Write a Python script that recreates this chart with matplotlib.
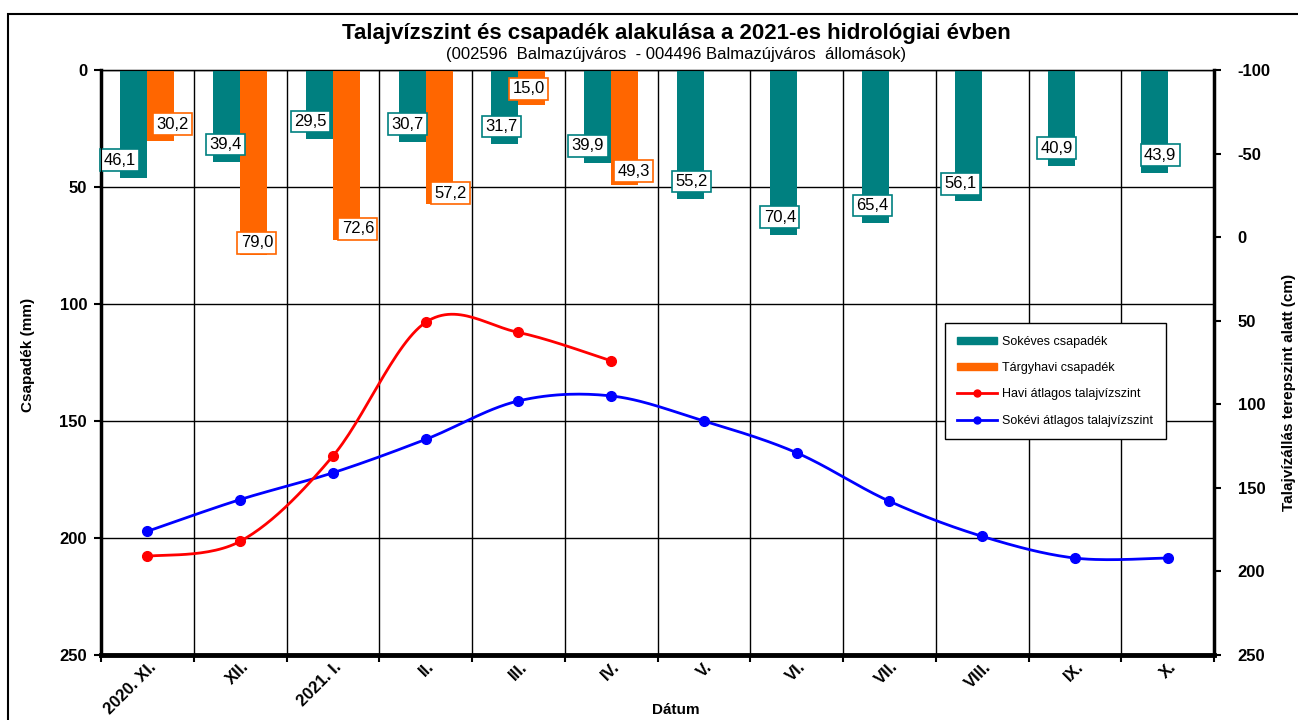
import matplotlib.pyplot as plt
import numpy as np
from matplotlib.patches import Rectangle, Patch
from matplotlib.lines import Line2D
import matplotlib.transforms as mtransforms

# %% data
months = ['2020. XI.', 'XII.', '2021. I.', 'II.', 'III.', 'IV.',
          'V.', 'VI.', 'VII.', 'VIII.', 'IX.', 'X.']
sokeves = [46.1, 39.4, 29.5, 30.7, 31.7, 39.9, 55.2, 70.4, 65.4, 56.1, 40.9, 43.9]
targyhavi = [30.2, 79.0, 72.6, 57.2, 15.0, 49.3]
havi_talajviz = [191, 182, 131, 51, 57, 74]
sokevi_talajviz = [176, 157, 141, 121, 98, 95, 110, 129, 158, 179, 192, 192]

# label placement (manually moved labels in the original)
teal_lbl_dx = [-0.30, -0.16, -0.24, -0.20, -0.18, -0.25, -0.13, -0.18, -0.18, -0.23, -0.20, -0.08]
orange_lbl_dx = [0.27, 0.18, 0.27, 0.27, 0.11, 0.24]
orange_lbl_dy = [-7.1, -5.1, -4.7, -4.6, -6.9, -6.1]

teal = '#008080'
orange = '#FF6600'
narrow = ['Liberation Sans Narrow', 'Liberation Sans', 'DejaVu Sans']
plt.rcParams['font.family'] = ['Liberation Sans', 'DejaVu Sans']
plt.rcParams['axes.unicode_minus'] = False


def smooth(x, y, n=30):
    # catmull-rom, like excel's smoothed line
    p = np.column_stack([x, y]).astype(float)
    p = np.vstack([p[0], p, p[-1]])
    t = np.linspace(0, 1, n)[:, None]
    segs = []
    for i in range(1, len(p) - 2):
        p0, p1, p2, p3 = p[i - 1], p[i], p[i + 1], p[i + 2]
        segs.append(0.5 * (2 * p1 + (-p0 + p2) * t + (2 * p0 - 5 * p1 + 4 * p2 - p3) * t ** 2
                           + (-p0 + 3 * p1 - 3 * p2 + p3) * t ** 3))
    s = np.vstack(segs)
    return s[:, 0], s[:, 1]


fig = plt.figure(figsize=(12.98, 7.2), dpi=100)
ax = fig.add_axes([101 / 1298, 1 - 655 / 720, 1113 / 1298, 585 / 720])
ax2 = ax.twinx()

x = np.arange(len(months))
w = 0.29
ax.bar(x - w / 2, sokeves, width=w, color=teal, zorder=3)
ax.bar(np.arange(len(targyhavi)) + w / 2, targyhavi, width=w, color=orange, zorder=3)

for i, v in enumerate(sokeves):
    ax.text(i - w / 2 + teal_lbl_dx[i] + 0.145, v - 7.5, f'{v:.1f}'.replace('.', ','),
            ha='center', va='center', fontsize=12, zorder=5,
            bbox=dict(boxstyle='square,pad=0.2', fc='white', ec=teal, lw=1.2))
for i, v in enumerate(targyhavi):
    ax.text(i + orange_lbl_dx[i], v + orange_lbl_dy[i], f'{v:.1f}'.replace('.', ','),
            ha='center', va='center', fontsize=12, zorder=5,
            bbox=dict(boxstyle='square,pad=0.2', fc='white', ec=orange, lw=1.2))

ax.set_xlim(-0.5, len(months) - 0.5)
ax.set_ylim(250, 0)
ax.set_yticks([0, 50, 100, 150, 200, 250])
ax.set_xticks(x)
ax.set_xticklabels(months, rotation=45, ha='right', va='top', rotation_mode='anchor',
                   fontsize=12, fontweight='bold')
ax.set_xticks(np.arange(-0.5, len(months), 1.0), minor=True)
ax.tick_params(axis='x', which='major', length=0, pad=3)
ax.tick_params(axis='x', which='minor', length=5, width=1.5, direction='out')
for lab in ax.get_xticklabels():
    lab.set_transform(lab.get_transform() + mtransforms.ScaledTranslation(0.01, 0, fig.dpi_scale_trans))
ax.tick_params(axis='y', length=5, width=1.5, labelsize=12, pad=5)
for lab in ax.get_yticklabels():
    lab.set_fontweight('bold')
ax.grid(axis='y', color='black', lw=1, zorder=1)
ax.grid(axis='x', which='minor', color='black', lw=1, zorder=1)
ax.set_axisbelow(True)

ax.spines['left'].set_linewidth(2.5)
ax.spines['bottom'].set_linewidth(3.5)
ax.spines['right'].set_linewidth(2.5)
ax.spines['top'].set_linewidth(1)

# groundwater lines on the right axis
sx, sy = smooth(x, sokevi_talajviz)
ax2.plot(sx, sy, color='#0000FF', lw=2, zorder=4)
ax2.plot(x, sokevi_talajviz, 'o', color='#0000FF', ms=7, zorder=4)
hx, hy = smooth(np.arange(len(havi_talajviz)), havi_talajviz)
ax2.plot(hx, hy, color='#FF0000', lw=2, zorder=4)
ax2.plot(np.arange(len(havi_talajviz)), havi_talajviz, 'o', color='#FF0000', ms=7, zorder=4)
ax2.set_ylim(250, -100)
ax2.set_yticks([-100, -50, 0, 50, 100, 150, 200, 250])
ax2.tick_params(axis='y', length=5, width=1.5, labelsize=12, pad=12)
for lab in ax2.get_yticklabels():
    lab.set_fontweight('bold')

handles = [Patch(color=teal), Patch(color=orange),
           Line2D([], [], color='#FF0000', marker='o', ms=5, lw=2),
           Line2D([], [], color='#0000FF', marker='o', ms=5, lw=2)]
labels = ['Sokéves csapadék', 'Tárgyhavi csapadék', 'Havi átlagos talajvízszint',
          'Sokévi átlagos talajvízszint']
leg = ax2.legend(handles, labels, loc='upper left', bbox_to_anchor=(0.758, 0.5675),
                 fontsize=9, frameon=True, fancybox=False, edgecolor='black',
                 framealpha=1, labelspacing=1.15, handlelength=3.2, handleheight=0.5,
                 borderpad=1.0, handletextpad=0.4, borderaxespad=0)
leg.get_frame().set_linewidth(1)
leg.set_zorder(10)

fig.text(676 / 1298, 1 - 33 / 720, 'Talajvízszint és csapadék alakulása a 2021-es hidrológiai évben',
         ha='center', va='center', fontsize=16, fontweight='bold')
fig.text(676 / 1298, 1 - 55 / 720, '(002596  Balmazújváros  - 004496 Balmazújváros  állomások)',
         ha='center', va='center', fontsize=12)
fig.text(28 / 1298, 1 - 355 / 720, 'Csapadék (mm)', rotation=90, ha='center', va='center',
         fontsize=11, fontweight='bold', family=narrow)
fig.text(1289 / 1298, 1 - 392 / 720, 'Talajvízállás terepszint alatt (cm)', rotation=90,
         ha='center', va='center', fontsize=11, fontweight='bold', family=narrow)
fig.text(676 / 1298, 1 - 710 / 720, 'Dátum', ha='center', va='center',
         fontsize=11, fontweight='bold', family=narrow)

# outer chart frame
fig.add_artist(Rectangle((8 / 1298, -0.1), 2, 1 - 14 / 720 + 0.1, transform=fig.transFigure,
                         fill=False, lw=1.5, ec='black'))

plt.savefig('out.png', dpi=100)
